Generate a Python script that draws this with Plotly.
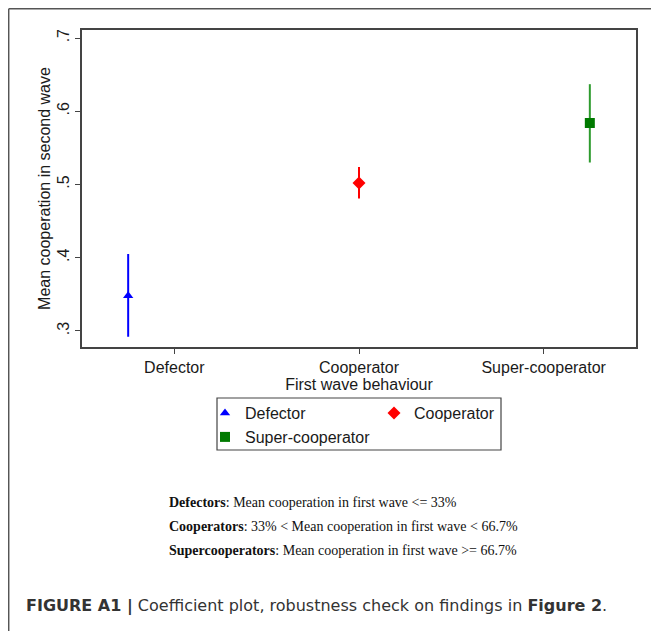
import plotly.graph_objects as go

# ---------------- data ----------------
categories = ["Defector", "Cooperator", "Super-cooperator"]
means = [0.348, 0.502, 0.584]
ci_low = [0.292, 0.481, 0.530]
ci_high = [0.405, 0.524, 0.637]
dodge = [-0.25, 0.0, 0.25]
symbols = ["triangle-up", "diamond", "square"]
marker_sizes = [9, 10, 10]
colors = ["#0000FF", "#FF0000", "#007A00"]
line_colors = ["#0000FF", "#FF0000", "#2E9B2E"]
y_tickvals = [0.3, 0.4, 0.5, 0.6, 0.7]
y_ticktext = [".3", ".4", ".5", ".6", ".7"]
note_lines = [
    "<b>Defectors</b>: Mean cooperation in first wave &lt;= 33%",
    "<b>Cooperators</b>: 33% &lt; Mean cooperation in first wave &lt; 66.7%",
    "<b>Supercooperators</b>: Mean cooperation in first wave &gt;= 66.7%",
]
caption = "<b>FIGURE A1 |</b> Coefficient plot, robustness check on findings in <b>Figure 2</b>."

# ---------------- geometry (window pixel coords; page has 8px body margin) ----------------
OFF = 8
WIN_W, WIN_H = 659, 631
W, H = WIN_W - OFF, WIN_H - OFF
L, R, T, B = 82, 636, 30, 347
PW, PH = R - L, B - T


def px(x):
    return (x - L) / PW


def py(y):
    return (B - y) / PH


fig = go.Figure()
for i, cat in enumerate(categories):
    fig.add_trace(go.Scatter(
        x=[i + 1 + dodge[i]],
        y=[means[i]],
        mode="markers",
        name=cat,
        legend="legend" if i < 2 else "legend2",
        marker=dict(symbol=symbols[i], size=marker_sizes[i], color=colors[i],
                    line=dict(width=0)),
        error_y=dict(type="data", symmetric=False,
                     array=[ci_high[i] - means[i]],
                     arrayminus=[means[i] - ci_low[i]],
                     color=line_colors[i], thickness=2, width=0),
    ))

axis_line = "#444444"
font_main = "Liberation Sans, Arial, sans-serif"
FS = 16

fig.update_layout(
    width=W, height=H,
    margin=dict(l=L - OFF, r=WIN_W - R, t=T - OFF, b=WIN_H - B, autoexpand=False),
    paper_bgcolor="white", plot_bgcolor="white",
    font=dict(family=font_main, size=FS, color="#1a1a1a"),
    xaxis=dict(
        range=[0.5, 3.5], tickvals=[1, 2, 3], ticktext=categories,
        showgrid=False, zeroline=False, showline=True, mirror=True,
        linecolor=axis_line, linewidth=1.5, ticks="outside", ticklen=5,
        tickcolor=axis_line, tickfont=dict(size=FS),
        title=dict(text="First wave behaviour", font=dict(size=FS), standoff=0),
    ),
    yaxis=dict(
        range=[0.278, 0.711], tickvals=y_tickvals, ticktext=y_ticktext,
        tickangle=-90, showgrid=False, zeroline=False, showline=True, mirror=True,
        linecolor=axis_line, linewidth=1.5, ticks="outside", ticklen=5,
        tickcolor=axis_line, tickfont=dict(size=FS),
        title=dict(text="Mean cooperation in second wave", font=dict(size=FS), standoff=0),
    ),
    legend=dict(orientation="h", x=px(205), y=py(396), xanchor="left", yanchor="top",
                entrywidth=124, bgcolor="rgba(0,0,0,0)", borderwidth=0,
                font=dict(size=FS), itemclick=False),
    legend2=dict(orientation="h", x=px(205), y=py(420), xanchor="left", yanchor="top",
                 bgcolor="rgba(0,0,0,0)", borderwidth=0, font=dict(size=FS),
                 itemclick=False),
    showlegend=True,
)

# legend border
fig.add_shape(type="rect", xref="paper", yref="paper",
              x0=px(217), x1=px(501), y0=py(398), y1=py(450),
              line=dict(color="#444444", width=1.2))
# outer frame (left and top)
fig.add_shape(type="line", xref="paper", yref="paper",
              x0=px(8.7), x1=px(8.7), y0=py(8.7), y1=py(WIN_H + 2),
              line=dict(color="#555555", width=1.5))
fig.add_shape(type="line", xref="paper", yref="paper",
              x0=px(8.7), x1=px(WIN_W + 2), y0=py(8.7), y1=py(8.7),
              line=dict(color="#555555", width=1.5))

for txt, yy in zip(note_lines, [502, 526, 550]):
    fig.add_annotation(text=txt, xref="paper", yref="paper", x=px(167), y=py(yy),
                       xanchor="left", yanchor="middle", showarrow=False,
                       font=dict(family="Liberation Serif, Times New Roman, serif",
                                 size=14, color="#111111"))

fig.add_annotation(text=caption, xref="paper", yref="paper", x=px(24), y=py(606),
                   xanchor="left", yanchor="middle", showarrow=False,
                   font=dict(family="DejaVu Sans, sans-serif", size=16, color="#333333"))

fig.write_html("out.html")
